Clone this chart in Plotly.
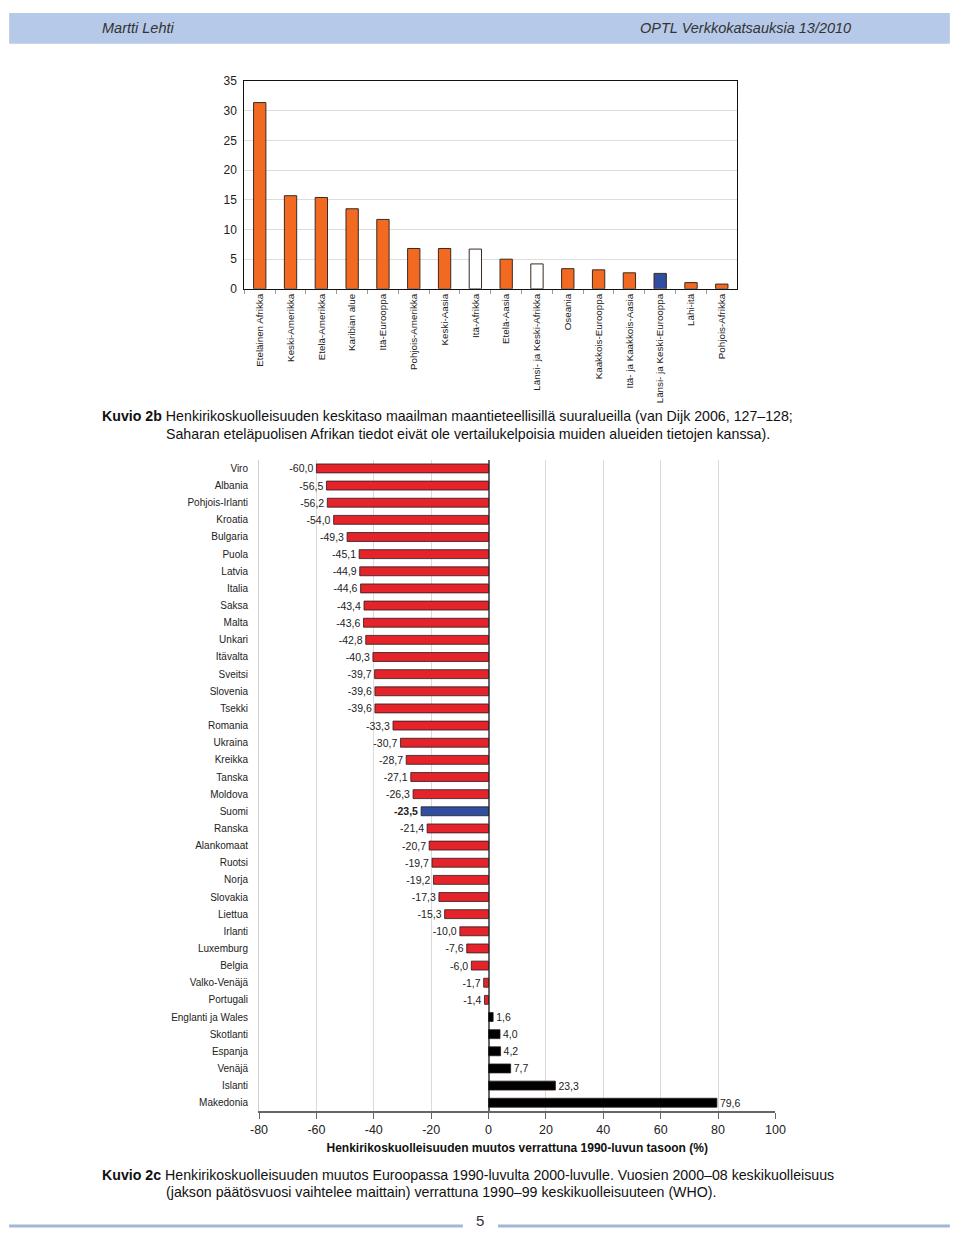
import plotly.graph_objects as go

# Page is 960x1239; body has default 8px margin, so the figure is 944x1223 placed at (8, 8).
PAGE_OFF = 8
W, H = 944, 1223

# ---- Data: Kuvio 2b ----
regions = ["Eteläinen Afrikka", "Keski-Amerikka", "Etelä-Amerikka", "Karibian alue",
           "Itä-Eurooppa", "Pohjois-Amerikka", "Keski-Aasia", "Itä-Afrikka", "Etelä-Aasia",
           "Länsi- ja Keski-Afrikka", "Oseania", "Kaakkois-Eurooppa",
           "Itä- ja Kaakkois-Aasia", "Länsi- ja Keski-Eurooppa", "Lähi-itä", "Pohjois-Afrikka"]
region_rates = [31.4, 15.7, 15.4, 13.5, 11.7, 6.8, 6.8, 6.7, 5.0, 4.2, 3.4, 3.2, 2.7, 2.6, 1.05, 0.8]
region_kind = ["o", "o", "o", "o", "o", "o", "o", "w", "o", "w", "o", "o", "o", "b", "o", "o"]

# ---- Data: Kuvio 2c ----
countries = ["Viro", "Albania", "Pohjois-Irlanti", "Kroatia", "Bulgaria", "Puola", "Latvia",
             "Italia", "Saksa", "Malta", "Unkari", "Itävalta", "Sveitsi", "Slovenia", "Tsekki",
             "Romania", "Ukraina", "Kreikka", "Tanska", "Moldova", "Suomi", "Ranska",
             "Alankomaat", "Ruotsi", "Norja", "Slovakia", "Liettua", "Irlanti", "Luxemburg",
             "Belgia", "Valko-Venäjä", "Portugali", "Englanti ja Wales", "Skotlanti",
             "Espanja", "Venäjä", "Islanti", "Makedonia"]
changes = [-60.0, -56.5, -56.2, -54.0, -49.3, -45.1, -44.9, -44.6, -43.4, -43.6, -42.8,
           -40.3, -39.7, -39.6, -39.6, -33.3, -30.7, -28.7, -27.1, -26.3, -23.5, -21.4,
           -20.7, -19.7, -19.2, -17.3, -15.3, -10.0, -7.6, -6.0, -1.7, -1.4, 1.6, 4.0,
           4.2, 7.7, 23.3, 79.6]
x_ticks = [-80, -60, -40, -20, 0, 20, 40, 60, 80, 100]
x_tick_labels = ["-80", "-60", "-40", "-20", "0", "20", "40", "60", "80", "100"]
y_ticks_top = [0, 5, 10, 15, 20, 25, 30, 35]

ORANGE = "#F26A22"
BLUE = "#2F4E9F"
RED = "#E5232B"
FONT = "Liberation Sans, Arial, sans-serif"

def px_x(p):
    return (p - PAGE_OFF) / W

def px_y(p):
    return 1 - (p - PAGE_OFF) / H

fill_map = {"o": ORANGE, "w": "#FFFFFF", "b": BLUE}
top_colors = [fill_map[k] for k in region_kind]

bot_colors = []
for c, v in zip(countries, changes):
    if c == "Suomi":
        bot_colors.append(BLUE)
    elif v < 0:
        bot_colors.append(RED)
    else:
        bot_colors.append("#000000")
bot_text = []
for c, v in zip(countries, changes):
    s = f"{v:.1f}".replace(".", ",")
    bot_text.append(f"<b>{s}</b>" if c == "Suomi" else s)

fig = go.Figure()

fig.add_trace(go.Bar(
    x=regions, y=region_rates, marker=dict(color=top_colors, line=dict(color="#3a2a20", width=1)),
    xaxis="x", yaxis="y", showlegend=False, hoverinfo="x+y"))

fig.add_trace(go.Bar(
    y=countries, x=changes, orientation="h",
    marker=dict(color=bot_colors, line=dict(color="#2a1a1a", width=0.8)),
    text=bot_text, textposition="outside", constraintext="none", cliponaxis=False,
    textfont=dict(family=FONT, size=10.5, color="#222"),
    xaxis="x2", yaxis="y2", showlegend=False))

fig.update_layout(
    width=W, height=H, margin=dict(l=0, r=0, t=0, b=0),
    paper_bgcolor="white", plot_bgcolor="white",
    font=dict(family=FONT, color="#222"),
    bargap=0.6,
    xaxis=dict(domain=[px_x(240), px_x(743)], anchor="y", type="category",
               tickangle=-90, tickfont=dict(size=9.8, family=FONT, color="#222"),
               showline=True, linecolor="#111", linewidth=1.2, mirror=True,
               ticks="outside", ticklen=4, tickcolor="#999", tickson="boundaries",
               showgrid=False),
    yaxis=dict(domain=[px_y(285), px_y(75)], anchor="x", range=[0, 35],
               tickvals=y_ticks_top, tickfont=dict(size=12, family=FONT, color="#222"),
               showline=True, linecolor="#111", linewidth=1.2, mirror=True,
               showgrid=True, gridcolor="#DDDDDD", gridwidth=1, zeroline=False,
               ticks="", ticklabelstandoff=4),
    xaxis2=dict(domain=[px_x(255), px_x(782)], anchor="y2", range=[-80, 100],
                tickvals=x_ticks, ticktext=x_tick_labels,
                tickfont=dict(size=12.5, family=FONT, color="#222"),
                showgrid=True, gridcolor="#DADADA", gridwidth=1,
                zeroline=True, zerolinecolor="#666", zerolinewidth=1.5,
                showline=True, linecolor="#666", linewidth=1.5,
                ticks="outside", ticklen=6, tickcolor="#666",
                title=dict(text="<b>Henkirikoskuolleisuuden muutos verrattuna 1990-luvun tasoon (%)</b>",
                           font=dict(size=12, family=FONT, color="#111"), standoff=8)),
    yaxis2=dict(domain=[px_y(1117), px_y(458)], anchor="x2", type="category",
                autorange="reversed", tickfont=dict(size=10, family=FONT, color="#222"),
                showline=True, linecolor="#D0D0D0", linewidth=1, showgrid=False,
                ticks="", ticklabelstandoff=8),
)
fig.update_traces(selector=dict(orientation="h"), width=0.52)

shapes = [
    dict(type="rect", xref="paper", yref="paper", x0=px_x(0), x1=px_x(960), y0=px_y(37), y1=px_y(6),
         fillcolor="#B6C9E8", line=dict(width=0), layer="below"),
    dict(type="line", xref="paper", yref="paper", x0=px_x(0), x1=px_x(463), y0=px_y(1233), y1=px_y(1233),
         line=dict(color="#A3B6D8", width=3)),
    dict(type="line", xref="paper", yref="paper", x0=px_x(499), x1=px_x(960), y0=px_y(1233), y1=px_y(1233),
         line=dict(color="#A3B6D8", width=3)),
]
fig.update_layout(shapes=shapes)

def ann(text, x, y, size=14, xanchor="left", italic=False, color="#111"):
    t = f"<i>{text}</i>" if italic else text
    return dict(text=t, xref="paper", yref="paper", x=px_x(x), y=px_y(y), xanchor=xanchor,
                yanchor="middle", showarrow=False, font=dict(size=size, family=FONT, color=color))

annotations = [
    ann("Martti Lehti", 93, 21, size=14.5, italic=True, color="#333"),
    ann("OPTL Verkkokatsauksia 13/2010", 861, 21, size=14.5, xanchor="right", italic=True, color="#333"),
    ann("<b>Kuvio 2b</b> Henkirikoskuolleisuuden keskitaso maailman maantieteellisillä suuralueilla (van Dijk 2006, 127–128;",
        93, 414, size=14.2),
    ann("Saharan eteläpuolisen Afrikan tiedot eivät ole vertailukelpoisia muiden alueiden tietojen kanssa).",
        158, 432, size=14.2),
    ann("<b>Kuvio 2c</b> Henkirikoskuolleisuuden muutos Euroopassa 1990-luvulta 2000-luvulle. Vuosien 2000–08 keskikuolleisuus",
        93, 1181, size=14.2),
    ann("(jakson päätösvuosi vaihtelee maittain) verrattuna 1990–99 keskikuolleisuuteen (WHO).",
        158, 1199, size=14.2),
    ann("5", 480, 1227, size=15, xanchor="center", color="#333"),
]
fig.update_layout(annotations=annotations)

fig.write_html("out.html", config={"displayModeBar": False})
